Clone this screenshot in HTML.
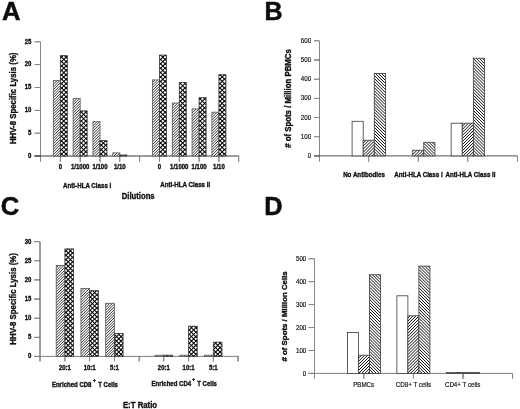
<!DOCTYPE html>
<html><head><meta charset="utf-8"><style>
html,body{margin:0;padding:0;background:#fff;width:520px;height:409px;overflow:hidden}
svg{display:block;will-change:transform}
text{font-family:"Liberation Sans", sans-serif;fill:#111;stroke:#111;stroke-width:0.36px}
.big{stroke-width:0.5px}
.reg{stroke-width:0.18px}
</style></head><body>
<svg width="520" height="409" viewBox="0 0 520 409">
<defs>
<filter id="soft" x="0" y="0" width="100%" height="100%" filterUnits="userSpaceOnUse"><feGaussianBlur stdDeviation="0.35"/></filter>

</defs>
<g filter="url(#soft)">
<rect width="520" height="409" fill="#fff"/>
<text x="2.00" y="19.80" font-size="25.6" font-weight="bold" text-anchor="start" class="big">A</text>
<line x1="40.50" y1="41.80" x2="40.50" y2="162.00" stroke="#888888" stroke-width="1"/>
<line x1="34.50" y1="156.00" x2="238.75" y2="156.00" stroke="#393939" stroke-width="1"/>
<line x1="34.50" y1="156.00" x2="40.50" y2="156.00" stroke="#393939" stroke-width="1"/>
<text transform="translate(31.30,157.80) scale(0.8696,1)" font-size="6.900" font-weight="bold" text-anchor="end" >0</text>
<line x1="34.50" y1="133.16" x2="40.50" y2="133.16" stroke="#5f5f5f" stroke-width="1"/>
<text transform="translate(31.30,134.96) scale(0.8696,1)" font-size="6.900" font-weight="bold" text-anchor="end" >5</text>
<line x1="34.50" y1="110.32" x2="40.50" y2="110.32" stroke="#777777" stroke-width="1"/>
<text transform="translate(31.30,112.12) scale(0.8696,1)" font-size="6.900" font-weight="bold" text-anchor="end" >10</text>
<line x1="34.50" y1="87.48" x2="40.50" y2="87.48" stroke="#868686" stroke-width="1"/>
<text transform="translate(31.30,89.28) scale(0.8696,1)" font-size="6.900" font-weight="bold" text-anchor="end" >15</text>
<line x1="34.50" y1="64.64" x2="40.50" y2="64.64" stroke="#7b7b7b" stroke-width="1"/>
<text transform="translate(31.30,66.44) scale(0.8696,1)" font-size="6.900" font-weight="bold" text-anchor="end" >20</text>
<line x1="34.50" y1="41.80" x2="40.50" y2="41.80" stroke="#666666" stroke-width="1"/>
<text transform="translate(31.30,43.60) scale(0.8696,1)" font-size="6.900" font-weight="bold" text-anchor="end" >25</text>
<line x1="60.33" y1="156.00" x2="60.33" y2="162.00" stroke="#777777" stroke-width="1"/>
<line x1="80.15" y1="156.00" x2="80.15" y2="162.00" stroke="#5d5d5d" stroke-width="1"/>
<line x1="99.97" y1="156.00" x2="99.97" y2="162.00" stroke="#414141" stroke-width="1"/>
<line x1="119.80" y1="156.00" x2="119.80" y2="162.00" stroke="#666666" stroke-width="1"/>
<line x1="139.62" y1="156.00" x2="139.62" y2="162.00" stroke="#7d7d7d" stroke-width="1"/>
<line x1="159.45" y1="156.00" x2="159.45" y2="162.00" stroke="#848484" stroke-width="1"/>
<line x1="179.28" y1="156.00" x2="179.28" y2="162.00" stroke="#717171" stroke-width="1"/>
<line x1="199.10" y1="156.00" x2="199.10" y2="162.00" stroke="#535353" stroke-width="1"/>
<line x1="218.92" y1="156.00" x2="218.92" y2="162.00" stroke="#4e4e4e" stroke-width="1"/>
<line x1="238.75" y1="156.00" x2="238.75" y2="162.00" stroke="#6e6e6e" stroke-width="1"/>
<rect x="53.33" y="80.60" width="7.00" height="75.40" fill="#fff"/>
<path d="M53.33 81.67L54.40 80.60M53.33 84.38L57.10 80.60M53.33 87.08L59.80 80.60M53.33 89.78L60.33 82.78M53.33 92.48L60.33 85.48M53.33 95.17L60.33 88.17M53.33 97.88L60.33 90.88M53.33 100.58L60.33 93.58M53.33 103.28L60.33 96.28M53.33 105.98L60.33 98.98M53.33 108.67L60.33 101.67M53.33 111.38L60.33 104.38M53.33 114.08L60.33 107.08M53.33 116.78L60.33 109.78M53.33 119.48L60.33 112.48M53.33 122.17L60.33 115.17M53.33 124.88L60.33 117.88M53.33 127.58L60.33 120.58M53.33 130.28L60.33 123.28M53.33 132.98L60.33 125.98M53.33 135.68L60.33 128.68M53.33 138.38L60.33 131.38M53.33 141.07L60.33 134.07M53.33 143.78L60.33 136.78M53.33 146.48L60.33 139.48M53.33 149.18L60.33 142.18M53.33 151.88L60.33 144.88M53.33 154.57L60.33 147.57M54.60 156.00L60.33 150.28M57.30 156.00L60.33 152.98M60.00 156.00L60.33 155.68" stroke="#000" stroke-width="0.8" fill="none"/>
<rect x="53.33" y="80.60" width="7.00" height="75.40" fill="none" stroke="#555" stroke-width="0.8"/>
<rect x="60.33" y="55.60" width="7.00" height="100.40" fill="#fff"/>
<path d="M60.33 58.48L63.20 55.60M60.33 62.88L67.33 55.88M60.33 67.28L67.33 60.28M60.33 71.67L67.33 64.67M60.33 76.08L67.33 69.08M60.33 80.48L67.33 73.48M60.33 84.88L67.33 77.88M60.33 89.28L67.33 82.28M60.33 93.67L67.33 86.67M60.33 98.08L67.33 91.08M60.33 102.48L67.33 95.48M60.33 106.88L67.33 99.88M60.33 111.28L67.33 104.28M60.33 115.67L67.33 108.67M60.33 120.08L67.33 113.08M60.33 124.48L67.33 117.48M60.33 128.88L67.33 121.88M60.33 133.28L67.33 126.28M60.33 137.68L67.33 130.68M60.33 142.07L67.33 135.07M60.33 146.48L67.33 139.48M60.33 150.88L67.33 143.88M60.33 155.28L67.33 148.28M64.00 156.00L67.33 152.68" stroke="#000" stroke-width="1.05" fill="none"/>
<path d="M60.33 152.73L63.60 156.00M60.33 148.32L67.33 155.32M60.33 143.93L67.33 150.93M60.33 139.53L67.33 146.53M60.33 135.12L67.33 142.12M60.33 130.73L67.33 137.73M60.33 126.33L67.33 133.32M60.33 121.93L67.33 128.93M60.33 117.53L67.33 124.53M60.33 113.12L67.33 120.12M60.33 108.73L67.33 115.73M60.33 104.33L67.33 111.33M60.33 99.93L67.33 106.93M60.33 95.53L67.33 102.53M60.33 91.12L67.33 98.12M60.33 86.73L67.33 93.73M60.33 82.33L67.33 89.33M60.33 77.93L67.33 84.93M60.33 73.53L67.33 80.53M60.33 69.12L67.33 76.12M60.33 64.73L67.33 71.73M60.33 60.33L67.33 67.33M60.33 55.93L67.33 62.93M64.40 55.60L67.33 58.53" stroke="#000" stroke-width="1.05" fill="none"/>
<rect x="60.33" y="55.60" width="7.00" height="100.40" fill="none" stroke="#3a3a3a" stroke-width="0.8"/>
<text transform="translate(60.33,169.20) scale(0.8696,1)" font-size="6.900" font-weight="bold" text-anchor="middle" >0</text>
<rect x="73.15" y="98.60" width="7.00" height="57.40" fill="#fff"/>
<path d="M73.15 99.65L74.20 98.60M73.15 102.35L76.90 98.60M73.15 105.05L79.60 98.60M73.15 107.75L80.15 100.75M73.15 110.45L80.15 103.45M73.15 113.15L80.15 106.15M73.15 115.85L80.15 108.85M73.15 118.55L80.15 111.55M73.15 121.25L80.15 114.25M73.15 123.95L80.15 116.95M73.15 126.65L80.15 119.65M73.15 129.35L80.15 122.35M73.15 132.05L80.15 125.05M73.15 134.75L80.15 127.75M73.15 137.45L80.15 130.45M73.15 140.15L80.15 133.15M73.15 142.85L80.15 135.85M73.15 145.55L80.15 138.55M73.15 148.25L80.15 141.25M73.15 150.95L80.15 143.95M73.15 153.65L80.15 146.65M73.50 156.00L80.15 149.35M76.20 156.00L80.15 152.05M78.90 156.00L80.15 154.75" stroke="#000" stroke-width="0.8" fill="none"/>
<rect x="73.15" y="98.60" width="7.00" height="57.40" fill="none" stroke="#555" stroke-width="0.8"/>
<rect x="80.15" y="110.90" width="7.00" height="45.10" fill="#fff"/>
<path d="M80.15 113.45L82.70 110.90M80.15 117.85L87.10 110.90M80.15 122.25L87.15 115.25M80.15 126.65L87.15 119.65M80.15 131.05L87.15 124.05M80.15 135.45L87.15 128.45M80.15 139.85L87.15 132.85M80.15 144.25L87.15 137.25M80.15 148.65L87.15 141.65M80.15 153.05L87.15 146.05M81.60 156.00L87.15 150.45M86.00 156.00L87.15 154.85" stroke="#000" stroke-width="1.05" fill="none"/>
<path d="M80.15 154.95L81.20 156.00M80.15 150.55L85.60 156.00M80.15 146.15L87.15 153.15M80.15 141.75L87.15 148.75M80.15 137.35L87.15 144.35M80.15 132.95L87.15 139.95M80.15 128.55L87.15 135.55M80.15 124.15L87.15 131.15M80.15 119.75L87.15 126.75M80.15 115.35L87.15 122.35M80.15 110.95L87.15 117.95M84.50 110.90L87.15 113.55" stroke="#000" stroke-width="1.05" fill="none"/>
<rect x="80.15" y="110.90" width="7.00" height="45.10" fill="none" stroke="#3a3a3a" stroke-width="0.8"/>
<text transform="translate(80.15,169.20) scale(0.8696,1)" font-size="6.900" font-weight="bold" text-anchor="middle" >1/1000</text>
<rect x="92.97" y="121.70" width="7.00" height="34.30" fill="#fff"/>
<path d="M92.97 123.03L94.30 121.70M92.97 125.73L97.00 121.70M92.97 128.43L99.70 121.70M92.97 131.13L99.97 124.13M92.97 133.83L99.97 126.83M92.97 136.53L99.97 129.53M92.97 139.23L99.97 132.23M92.97 141.93L99.97 134.93M92.97 144.63L99.97 137.63M92.97 147.33L99.97 140.33M92.97 150.03L99.97 143.03M92.97 152.73L99.97 145.73M92.97 155.43L99.97 148.43M95.10 156.00L99.97 151.13M97.80 156.00L99.97 153.83" stroke="#000" stroke-width="0.8" fill="none"/>
<rect x="92.97" y="121.70" width="7.00" height="34.30" fill="none" stroke="#555" stroke-width="0.8"/>
<rect x="99.97" y="140.40" width="7.00" height="15.60" fill="#fff"/>
<path d="M99.97 142.03L101.60 140.40M99.97 146.43L106.00 140.40M99.97 150.83L106.97 143.83M99.97 155.23L106.97 148.23M103.60 156.00L106.97 152.63" stroke="#000" stroke-width="1.05" fill="none"/>
<path d="M99.97 152.78L103.20 156.00M99.97 148.38L106.97 155.38M99.97 143.97L106.97 150.97M100.80 140.40L106.97 146.57M105.20 140.40L106.97 142.18" stroke="#000" stroke-width="1.05" fill="none"/>
<rect x="99.97" y="140.40" width="7.00" height="15.60" fill="none" stroke="#3a3a3a" stroke-width="0.8"/>
<text transform="translate(99.97,169.20) scale(0.8696,1)" font-size="6.900" font-weight="bold" text-anchor="middle" >1/100</text>
<rect x="112.80" y="152.90" width="7.00" height="3.10" fill="#fff"/>
<path d="M112.80 154.50L114.40 152.90M114.00 156.00L117.10 152.90M116.70 156.00L119.80 152.90M119.40 156.00L119.80 155.60" stroke="#000" stroke-width="0.8" fill="none"/>
<rect x="112.80" y="152.90" width="7.00" height="3.10" fill="none" stroke="#555" stroke-width="0.8"/>
<rect x="119.80" y="155.00" width="7.00" height="1.00" fill="#fff"/>
<path d="M121.20 156.00L122.20 155.00M125.60 156.00L126.60 155.00" stroke="#000" stroke-width="1.05" fill="none"/>
<path d="M119.80 155.00L120.80 156.00M124.20 155.00L125.20 156.00" stroke="#000" stroke-width="1.05" fill="none"/>
<rect x="119.80" y="155.00" width="7.00" height="1.00" fill="none" stroke="#3a3a3a" stroke-width="0.8"/>
<text transform="translate(119.80,169.20) scale(0.8696,1)" font-size="6.900" font-weight="bold" text-anchor="middle" >1/10</text>
<rect x="152.45" y="79.90" width="7.00" height="76.10" fill="#fff"/>
<path d="M152.45 82.45L155.00 79.90M152.45 85.15L157.70 79.90M152.45 87.85L159.45 80.85M152.45 90.55L159.45 83.55M152.45 93.25L159.45 86.25M152.45 95.95L159.45 88.95M152.45 98.65L159.45 91.65M152.45 101.35L159.45 94.35M152.45 104.05L159.45 97.05M152.45 106.75L159.45 99.75M152.45 109.45L159.45 102.45M152.45 112.15L159.45 105.15M152.45 114.85L159.45 107.85M152.45 117.55L159.45 110.55M152.45 120.25L159.45 113.25M152.45 122.95L159.45 115.95M152.45 125.65L159.45 118.65M152.45 128.35L159.45 121.35M152.45 131.05L159.45 124.05M152.45 133.75L159.45 126.75M152.45 136.45L159.45 129.45M152.45 139.15L159.45 132.15M152.45 141.85L159.45 134.85M152.45 144.55L159.45 137.55M152.45 147.25L159.45 140.25M152.45 149.95L159.45 142.95M152.45 152.65L159.45 145.65M152.45 155.35L159.45 148.35M154.50 156.00L159.45 151.05M157.20 156.00L159.45 153.75" stroke="#000" stroke-width="0.8" fill="none"/>
<rect x="152.45" y="79.90" width="7.00" height="76.10" fill="none" stroke="#555" stroke-width="0.8"/>
<rect x="159.45" y="55.10" width="7.00" height="100.90" fill="#fff"/>
<path d="M159.45 56.15L160.50 55.10M159.45 60.55L164.90 55.10M159.45 64.95L166.45 57.95M159.45 69.35L166.45 62.35M159.45 73.75L166.45 66.75M159.45 78.15L166.45 71.15M159.45 82.55L166.45 75.55M159.45 86.95L166.45 79.95M159.45 91.35L166.45 84.35M159.45 95.75L166.45 88.75M159.45 100.15L166.45 93.15M159.45 104.55L166.45 97.55M159.45 108.95L166.45 101.95M159.45 113.35L166.45 106.35M159.45 117.75L166.45 110.75M159.45 122.15L166.45 115.15M159.45 126.55L166.45 119.55M159.45 130.95L166.45 123.95M159.45 135.35L166.45 128.35M159.45 139.75L166.45 132.75M159.45 144.15L166.45 137.15M159.45 148.55L166.45 141.55M159.45 152.95L166.45 145.95M160.80 156.00L166.45 150.35M165.20 156.00L166.45 154.75" stroke="#000" stroke-width="1.05" fill="none"/>
<path d="M159.45 155.05L160.40 156.00M159.45 150.65L164.80 156.00M159.45 146.25L166.45 153.25M159.45 141.85L166.45 148.85M159.45 137.45L166.45 144.45M159.45 133.05L166.45 140.05M159.45 128.65L166.45 135.65M159.45 124.25L166.45 131.25M159.45 119.85L166.45 126.85M159.45 115.45L166.45 122.45M159.45 111.05L166.45 118.05M159.45 106.65L166.45 113.65M159.45 102.25L166.45 109.25M159.45 97.85L166.45 104.85M159.45 93.45L166.45 100.45M159.45 89.05L166.45 96.05M159.45 84.65L166.45 91.65M159.45 80.25L166.45 87.25M159.45 75.85L166.45 82.85M159.45 71.45L166.45 78.45M159.45 67.05L166.45 74.05M159.45 62.65L166.45 69.65M159.45 58.25L166.45 65.25M160.70 55.10L166.45 60.85M165.10 55.10L166.45 56.45" stroke="#000" stroke-width="1.05" fill="none"/>
<rect x="159.45" y="55.10" width="7.00" height="100.90" fill="none" stroke="#3a3a3a" stroke-width="0.8"/>
<text transform="translate(159.45,169.20) scale(0.8696,1)" font-size="6.900" font-weight="bold" text-anchor="middle" >0</text>
<rect x="172.28" y="103.00" width="7.00" height="53.00" fill="#fff"/>
<path d="M172.28 103.13L172.40 103.00M172.28 105.83L175.10 103.00M172.28 108.53L177.80 103.00M172.28 111.22L179.28 104.22M172.28 113.93L179.28 106.93M172.28 116.63L179.28 109.63M172.28 119.33L179.28 112.33M172.28 122.03L179.28 115.03M172.28 124.72L179.28 117.72M172.28 127.43L179.28 120.43M172.28 130.13L179.28 123.13M172.28 132.83L179.28 125.83M172.28 135.53L179.28 128.53M172.28 138.22L179.28 131.22M172.28 140.93L179.28 133.93M172.28 143.63L179.28 136.63M172.28 146.33L179.28 139.33M172.28 149.03L179.28 142.03M172.28 151.72L179.28 144.72M172.28 154.43L179.28 147.43M173.40 156.00L179.28 150.13M176.10 156.00L179.28 152.83M178.80 156.00L179.28 155.53" stroke="#000" stroke-width="0.8" fill="none"/>
<rect x="172.28" y="103.00" width="7.00" height="53.00" fill="none" stroke="#555" stroke-width="0.8"/>
<rect x="179.28" y="82.50" width="7.00" height="73.50" fill="#fff"/>
<path d="M179.28 84.72L181.50 82.50M179.28 89.13L185.90 82.50M179.28 93.53L186.28 86.53M179.28 97.93L186.28 90.93M179.28 102.33L186.28 95.33M179.28 106.72L186.28 99.72M179.28 111.13L186.28 104.13M179.28 115.53L186.28 108.53M179.28 119.93L186.28 112.93M179.28 124.33L186.28 117.33M179.28 128.72L186.28 121.72M179.28 133.13L186.28 126.13M179.28 137.53L186.28 130.53M179.28 141.93L186.28 134.93M179.28 146.33L186.28 139.33M179.28 150.72L186.28 143.72M179.28 155.13L186.28 148.13M182.80 156.00L186.28 152.53" stroke="#000" stroke-width="1.05" fill="none"/>
<path d="M179.28 152.88L182.40 156.00M179.28 148.47L186.28 155.47M179.28 144.07L186.28 151.07M179.28 139.68L186.28 146.68M179.28 135.28L186.28 142.28M179.28 130.88L186.28 137.88M179.28 126.47L186.28 133.47M179.28 122.08L186.28 129.07M179.28 117.67L186.28 124.67M179.28 113.28L186.28 120.28M179.28 108.88L186.28 115.88M179.28 104.47L186.28 111.47M179.28 100.08L186.28 107.08M179.28 95.67L186.28 102.67M179.28 91.28L186.28 98.28M179.28 86.88L186.28 93.88M179.30 82.50L186.28 89.47M183.70 82.50L186.28 85.08" stroke="#000" stroke-width="1.05" fill="none"/>
<rect x="179.28" y="82.50" width="7.00" height="73.50" fill="none" stroke="#3a3a3a" stroke-width="0.8"/>
<text transform="translate(179.28,169.20) scale(0.8696,1)" font-size="6.900" font-weight="bold" text-anchor="middle" >1/1000</text>
<rect x="192.10" y="108.90" width="7.00" height="47.10" fill="#fff"/>
<path d="M192.10 110.30L193.50 108.90M192.10 113.00L196.20 108.90M192.10 115.70L198.90 108.90M192.10 118.40L199.10 111.40M192.10 121.10L199.10 114.10M192.10 123.80L199.10 116.80M192.10 126.50L199.10 119.50M192.10 129.20L199.10 122.20M192.10 131.90L199.10 124.90M192.10 134.60L199.10 127.60M192.10 137.30L199.10 130.30M192.10 140.00L199.10 133.00M192.10 142.70L199.10 135.70M192.10 145.40L199.10 138.40M192.10 148.10L199.10 141.10M192.10 150.80L199.10 143.80M192.10 153.50L199.10 146.50M192.30 156.00L199.10 149.20M195.00 156.00L199.10 151.90M197.70 156.00L199.10 154.60" stroke="#000" stroke-width="0.8" fill="none"/>
<rect x="192.10" y="108.90" width="7.00" height="47.10" fill="none" stroke="#555" stroke-width="0.8"/>
<rect x="199.10" y="97.70" width="7.00" height="58.30" fill="#fff"/>
<path d="M199.10 100.10L201.50 97.70M199.10 104.50L205.90 97.70M199.10 108.90L206.10 101.90M199.10 113.30L206.10 106.30M199.10 117.70L206.10 110.70M199.10 122.10L206.10 115.10M199.10 126.50L206.10 119.50M199.10 130.90L206.10 123.90M199.10 135.30L206.10 128.30M199.10 139.70L206.10 132.70M199.10 144.10L206.10 137.10M199.10 148.50L206.10 141.50M199.10 152.90L206.10 145.90M200.40 156.00L206.10 150.30M204.80 156.00L206.10 154.70" stroke="#000" stroke-width="1.05" fill="none"/>
<path d="M199.10 155.10L200.00 156.00M199.10 150.70L204.40 156.00M199.10 146.30L206.10 153.30M199.10 141.90L206.10 148.90M199.10 137.50L206.10 144.50M199.10 133.10L206.10 140.10M199.10 128.70L206.10 135.70M199.10 124.30L206.10 131.30M199.10 119.90L206.10 126.90M199.10 115.50L206.10 122.50M199.10 111.10L206.10 118.10M199.10 106.70L206.10 113.70M199.10 102.30L206.10 109.30M199.10 97.90L206.10 104.90M203.30 97.70L206.10 100.50" stroke="#000" stroke-width="1.05" fill="none"/>
<rect x="199.10" y="97.70" width="7.00" height="58.30" fill="none" stroke="#3a3a3a" stroke-width="0.8"/>
<text transform="translate(199.10,169.20) scale(0.8696,1)" font-size="6.900" font-weight="bold" text-anchor="middle" >1/100</text>
<rect x="211.92" y="112.20" width="7.00" height="43.80" fill="#fff"/>
<path d="M211.92 114.78L214.50 112.20M211.92 117.48L217.20 112.20M211.92 120.18L218.92 113.18M211.92 122.88L218.92 115.88M211.92 125.58L218.92 118.58M211.92 128.28L218.92 121.28M211.92 130.98L218.92 123.98M211.92 133.68L218.92 126.68M211.92 136.38L218.92 129.38M211.92 139.08L218.92 132.08M211.92 141.78L218.92 134.78M211.92 144.48L218.92 137.48M211.92 147.18L218.92 140.18M211.92 149.88L218.92 142.88M211.92 152.58L218.92 145.58M211.92 155.28L218.92 148.28M213.90 156.00L218.92 150.98M216.60 156.00L218.92 153.68" stroke="#000" stroke-width="0.8" fill="none"/>
<rect x="211.92" y="112.20" width="7.00" height="43.80" fill="none" stroke="#555" stroke-width="0.8"/>
<rect x="218.92" y="74.70" width="7.00" height="81.30" fill="#fff"/>
<path d="M218.92 75.88L220.10 74.70M218.92 80.28L224.50 74.70M218.92 84.68L225.92 77.68M218.92 89.08L225.92 82.08M218.92 93.48L225.92 86.48M218.92 97.88L225.92 90.88M218.92 102.28L225.92 95.28M218.92 106.68L225.92 99.68M218.92 111.08L225.92 104.08M218.92 115.48L225.92 108.48M218.92 119.88L225.92 112.88M218.92 124.28L225.92 117.28M218.92 128.68L225.92 121.68M218.92 133.08L225.92 126.08M218.92 137.48L225.92 130.48M218.92 141.88L225.92 134.88M218.92 146.28L225.92 139.28M218.92 150.68L225.92 143.68M218.92 155.08L225.92 148.08M222.40 156.00L225.92 152.48" stroke="#000" stroke-width="1.05" fill="none"/>
<path d="M218.92 152.92L222.00 156.00M218.92 148.52L225.92 155.52M218.92 144.12L225.92 151.12M218.92 139.72L225.92 146.72M218.92 135.32L225.92 142.32M218.92 130.92L225.92 137.92M218.92 126.52L225.92 133.52M218.92 122.12L225.92 129.12M218.92 117.72L225.92 124.72M218.92 113.32L225.92 120.32M218.92 108.92L225.92 115.92M218.92 104.52L225.92 111.52M218.92 100.12L225.92 107.12M218.92 95.72L225.92 102.72M218.92 91.32L225.92 98.32M218.92 86.92L225.92 93.92M218.92 82.52L225.92 89.52M218.92 78.12L225.92 85.12M219.90 74.70L225.92 80.72M224.30 74.70L225.92 76.32" stroke="#000" stroke-width="1.05" fill="none"/>
<rect x="218.92" y="74.70" width="7.00" height="81.30" fill="none" stroke="#3a3a3a" stroke-width="0.8"/>
<text transform="translate(218.92,169.20) scale(0.8696,1)" font-size="6.900" font-weight="bold" text-anchor="middle" >1/10</text>
<text transform="translate(87.20,187.70) scale(0.8696,1)" font-size="7.130" font-weight="bold" text-anchor="middle" >Anti-HLA Class I</text>
<text transform="translate(185.20,187.00) scale(0.8696,1)" font-size="7.130" font-weight="bold" text-anchor="middle" >Anti-HLA Class II</text>
<text transform="translate(138.20,198.90) scale(0.8696,1)" font-size="8.855" font-weight="bold" text-anchor="middle" >Dilutions</text>
<text transform="translate(15.80,98.30) rotate(-90) scale(0.8696,1)" font-size="9.027" font-weight="bold" text-anchor="middle">HHV-8 Specific Lysis (%)</text>
<text x="264.50" y="19.60" font-size="25" font-weight="bold" text-anchor="start" class="big">B</text>
<line x1="319.50" y1="41.00" x2="319.50" y2="161.80" stroke="#888888" stroke-width="1"/>
<line x1="314.00" y1="155.90" x2="517.40" y2="155.90" stroke="#535353" stroke-width="1"/>
<line x1="314.00" y1="155.90" x2="319.50" y2="155.90" stroke="#535353" stroke-width="1"/>
<text transform="translate(311.20,158.00) scale(0.8696,1)" font-size="7.130" font-weight="normal" text-anchor="end" class="reg" >0</text>
<line x1="314.00" y1="136.72" x2="319.50" y2="136.72" stroke="#727272" stroke-width="1"/>
<text transform="translate(311.20,138.82) scale(0.8696,1)" font-size="7.130" font-weight="normal" text-anchor="end" class="reg" >100</text>
<line x1="314.00" y1="117.54" x2="319.50" y2="117.54" stroke="#858585" stroke-width="1"/>
<text transform="translate(311.20,119.64) scale(0.8696,1)" font-size="7.130" font-weight="normal" text-anchor="end" class="reg" >200</text>
<line x1="314.00" y1="98.36" x2="319.50" y2="98.36" stroke="#7b7b7b" stroke-width="1"/>
<text transform="translate(311.20,100.46) scale(0.8696,1)" font-size="7.130" font-weight="normal" text-anchor="end" class="reg" >300</text>
<line x1="314.00" y1="79.18" x2="319.50" y2="79.18" stroke="#636363" stroke-width="1"/>
<text transform="translate(311.20,81.28) scale(0.8696,1)" font-size="7.130" font-weight="normal" text-anchor="end" class="reg" >400</text>
<line x1="314.00" y1="60.00" x2="319.50" y2="60.00" stroke="#393939" stroke-width="1"/>
<text transform="translate(311.20,62.10) scale(0.8696,1)" font-size="7.130" font-weight="normal" text-anchor="end" class="reg" >500</text>
<line x1="314.00" y1="40.82" x2="319.50" y2="40.82" stroke="#636363" stroke-width="1"/>
<text transform="translate(311.20,42.92) scale(0.8696,1)" font-size="7.130" font-weight="normal" text-anchor="end" class="reg" >600</text>
<line x1="368.75" y1="155.90" x2="368.75" y2="161.80" stroke="#6e6e6e" stroke-width="1"/>
<line x1="418.25" y1="155.90" x2="418.25" y2="161.80" stroke="#6e6e6e" stroke-width="1"/>
<line x1="467.80" y1="155.90" x2="467.80" y2="161.80" stroke="#666666" stroke-width="1"/>
<line x1="517.40" y1="155.90" x2="517.40" y2="161.80" stroke="#7f7f7f" stroke-width="1"/>
<rect x="352.10" y="121.30" width="11.10" height="34.60" fill="#fff" stroke="#3a3a3a" stroke-width="0.8"/>
<rect x="363.20" y="140.20" width="11.10" height="15.70" fill="#fff"/>
<path d="M363.20 143.10L366.10 140.20M363.20 146.15L369.15 140.20M363.20 149.20L372.20 140.20M363.20 152.25L374.30 141.15M363.20 155.30L374.30 144.20M365.65 155.90L374.30 147.25M368.70 155.90L374.30 150.30M371.75 155.90L374.30 153.35" stroke="#000" stroke-width="0.95" fill="none"/>
<rect x="363.20" y="140.20" width="11.10" height="15.70" fill="none" stroke="#3a3a3a" stroke-width="0.8"/>
<rect x="374.30" y="73.40" width="11.10" height="82.50" fill="#fff"/>
<path d="M374.30 154.70L375.50 155.90M374.30 151.65L378.55 155.90M374.30 148.60L381.60 155.90M374.30 145.55L384.65 155.90M374.30 142.50L385.40 153.60M374.30 139.45L385.40 150.55M374.30 136.40L385.40 147.50M374.30 133.35L385.40 144.45M374.30 130.30L385.40 141.40M374.30 127.25L385.40 138.35M374.30 124.20L385.40 135.30M374.30 121.15L385.40 132.25M374.30 118.10L385.40 129.20M374.30 115.05L385.40 126.15M374.30 112.00L385.40 123.10M374.30 108.95L385.40 120.05M374.30 105.90L385.40 117.00M374.30 102.85L385.40 113.95M374.30 99.80L385.40 110.90M374.30 96.75L385.40 107.85M374.30 93.70L385.40 104.80M374.30 90.65L385.40 101.75M374.30 87.60L385.40 98.70M374.30 84.55L385.40 95.65M374.30 81.50L385.40 92.60M374.30 78.45L385.40 89.55M374.30 75.40L385.40 86.50M375.35 73.40L385.40 83.45M378.40 73.40L385.40 80.40M381.45 73.40L385.40 77.35M384.50 73.40L385.40 74.30" stroke="#000" stroke-width="0.95" fill="none"/>
<rect x="374.30" y="73.40" width="11.10" height="82.50" fill="none" stroke="#3a3a3a" stroke-width="0.8"/>
<rect x="412.70" y="150.20" width="11.10" height="5.70" fill="#fff"/>
<path d="M412.70 151.55L414.05 150.20M412.70 154.60L417.10 150.20M414.45 155.90L420.15 150.20M417.50 155.90L423.20 150.20M420.55 155.90L423.80 152.65M423.60 155.90L423.80 155.70" stroke="#000" stroke-width="0.95" fill="none"/>
<rect x="412.70" y="150.20" width="11.10" height="5.70" fill="none" stroke="#3a3a3a" stroke-width="0.8"/>
<rect x="423.80" y="142.30" width="11.10" height="13.60" fill="#fff"/>
<path d="M423.80 155.40L424.30 155.90M423.80 152.35L427.35 155.90M423.80 149.30L430.40 155.90M423.80 146.25L433.45 155.90M423.80 143.20L434.90 154.30M425.95 142.30L434.90 151.25M429.00 142.30L434.90 148.20M432.05 142.30L434.90 145.15" stroke="#000" stroke-width="0.95" fill="none"/>
<rect x="423.80" y="142.30" width="11.10" height="13.60" fill="none" stroke="#3a3a3a" stroke-width="0.8"/>
<rect x="451.15" y="123.20" width="11.10" height="32.70" fill="#fff" stroke="#3a3a3a" stroke-width="0.8"/>
<rect x="462.25" y="123.20" width="11.10" height="32.70" fill="#fff"/>
<path d="M462.25 123.35L462.40 123.20M462.25 126.40L465.45 123.20M462.25 129.45L468.50 123.20M462.25 132.50L471.55 123.20M462.25 135.55L473.35 124.45M462.25 138.60L473.35 127.50M462.25 141.65L473.35 130.55M462.25 144.70L473.35 133.60M462.25 147.75L473.35 136.65M462.25 150.80L473.35 139.70M462.25 153.85L473.35 142.75M463.25 155.90L473.35 145.80M466.30 155.90L473.35 148.85M469.35 155.90L473.35 151.90M472.40 155.90L473.35 154.95" stroke="#000" stroke-width="0.95" fill="none"/>
<rect x="462.25" y="123.20" width="11.10" height="32.70" fill="none" stroke="#3a3a3a" stroke-width="0.8"/>
<rect x="473.35" y="58.20" width="11.10" height="97.70" fill="#fff"/>
<path d="M473.35 153.10L476.15 155.90M473.35 150.05L479.20 155.90M473.35 147.00L482.25 155.90M473.35 143.95L484.45 155.05M473.35 140.90L484.45 152.00M473.35 137.85L484.45 148.95M473.35 134.80L484.45 145.90M473.35 131.75L484.45 142.85M473.35 128.70L484.45 139.80M473.35 125.65L484.45 136.75M473.35 122.60L484.45 133.70M473.35 119.55L484.45 130.65M473.35 116.50L484.45 127.60M473.35 113.45L484.45 124.55M473.35 110.40L484.45 121.50M473.35 107.35L484.45 118.45M473.35 104.30L484.45 115.40M473.35 101.25L484.45 112.35M473.35 98.20L484.45 109.30M473.35 95.15L484.45 106.25M473.35 92.10L484.45 103.20M473.35 89.05L484.45 100.15M473.35 86.00L484.45 97.10M473.35 82.95L484.45 94.05M473.35 79.90L484.45 91.00M473.35 76.85L484.45 87.95M473.35 73.80L484.45 84.90M473.35 70.75L484.45 81.85M473.35 67.70L484.45 78.80M473.35 64.65L484.45 75.75M473.35 61.60L484.45 72.70M473.35 58.55L484.45 69.65M476.05 58.20L484.45 66.60M479.10 58.20L484.45 63.55M482.15 58.20L484.45 60.50" stroke="#000" stroke-width="0.95" fill="none"/>
<rect x="473.35" y="58.20" width="11.10" height="97.70" fill="none" stroke="#3a3a3a" stroke-width="0.8"/>
<text transform="translate(364.00,177.00) scale(0.8696,1)" font-size="7.130" font-weight="bold" text-anchor="middle" >No Antibodies</text>
<text transform="translate(418.50,177.00) scale(0.8696,1)" font-size="7.130" font-weight="bold" text-anchor="middle" >Anti-HLA Class I</text>
<text transform="translate(470.50,177.00) scale(0.8696,1)" font-size="7.130" font-weight="bold" text-anchor="middle" >Anti-HLA Class II</text>
<text transform="translate(291.00,98.50) rotate(-90) scale(0.8696,1)" font-size="9.027" font-weight="bold" text-anchor="middle"># of Spots / Million PBMCs</text>
<text x="0.80" y="215.30" font-size="25.6" font-weight="bold" text-anchor="start" class="big">C</text>
<line x1="40.00" y1="241.70" x2="40.00" y2="361.50" stroke="#393939" stroke-width="1"/>
<line x1="34.00" y1="356.40" x2="238.00" y2="356.40" stroke="#7f7f7f" stroke-width="1"/>
<line x1="34.00" y1="356.40" x2="40.00" y2="356.40" stroke="#7f7f7f" stroke-width="1"/>
<text transform="translate(31.30,358.20) scale(0.8696,1)" font-size="6.900" font-weight="bold" text-anchor="end" >0</text>
<line x1="34.00" y1="337.28" x2="40.00" y2="337.28" stroke="#727272" stroke-width="1"/>
<text transform="translate(31.30,339.08) scale(0.8696,1)" font-size="6.900" font-weight="bold" text-anchor="end" >5</text>
<line x1="34.00" y1="318.17" x2="40.00" y2="318.17" stroke="#606060" stroke-width="1"/>
<text transform="translate(31.30,319.97) scale(0.8696,1)" font-size="6.900" font-weight="bold" text-anchor="end" >10</text>
<line x1="34.00" y1="299.05" x2="40.00" y2="299.05" stroke="#474747" stroke-width="1"/>
<text transform="translate(31.30,300.85) scale(0.8696,1)" font-size="6.900" font-weight="bold" text-anchor="end" >15</text>
<line x1="34.00" y1="279.93" x2="40.00" y2="279.93" stroke="#4c4c4c" stroke-width="1"/>
<text transform="translate(31.30,281.73) scale(0.8696,1)" font-size="6.900" font-weight="bold" text-anchor="end" >20</text>
<line x1="34.00" y1="260.82" x2="40.00" y2="260.82" stroke="#636363" stroke-width="1"/>
<text transform="translate(31.30,262.62) scale(0.8696,1)" font-size="6.900" font-weight="bold" text-anchor="end" >25</text>
<line x1="34.00" y1="241.70" x2="40.00" y2="241.70" stroke="#747474" stroke-width="1"/>
<text transform="translate(31.30,243.50) scale(0.8696,1)" font-size="6.900" font-weight="bold" text-anchor="end" >30</text>
<line x1="64.93" y1="356.40" x2="64.93" y2="361.50" stroke="#4e4e4e" stroke-width="1"/>
<rect x="56.23" y="265.40" width="8.70" height="91.00" fill="#fff"/>
<path d="M56.23 267.77L58.60 265.40M56.23 270.48L61.30 265.40M56.23 273.18L64.00 265.40M56.23 275.88L64.93 267.18M56.23 278.57L64.93 269.88M56.23 281.27L64.93 272.57M56.23 283.98L64.93 275.28M56.23 286.68L64.93 277.98M56.23 289.38L64.93 280.68M56.23 292.07L64.93 283.38M56.23 294.77L64.93 286.07M56.23 297.48L64.93 288.78M56.23 300.18L64.93 291.48M56.23 302.88L64.93 294.18M56.23 305.57L64.93 296.88M56.23 308.27L64.93 299.57M56.23 310.98L64.93 302.28M56.23 313.68L64.93 304.98M56.23 316.38L64.93 307.68M56.23 319.07L64.93 310.38M56.23 321.77L64.93 313.07M56.23 324.48L64.93 315.78M56.23 327.18L64.93 318.48M56.23 329.88L64.93 321.18M56.23 332.57L64.93 323.88M56.23 335.27L64.93 326.57M56.23 337.98L64.93 329.28M56.23 340.68L64.93 331.98M56.23 343.38L64.93 334.68M56.23 346.07L64.93 337.38M56.23 348.77L64.93 340.07M56.23 351.48L64.93 342.78M56.23 354.18L64.93 345.48M56.70 356.40L64.93 348.18M59.40 356.40L64.93 350.88M62.10 356.40L64.93 353.57M64.80 356.40L64.93 356.28" stroke="#000" stroke-width="0.8" fill="none"/>
<rect x="56.23" y="265.40" width="8.70" height="91.00" fill="none" stroke="#555" stroke-width="0.8"/>
<rect x="64.93" y="248.90" width="8.70" height="107.50" fill="#fff"/>
<path d="M64.93 251.88L67.90 248.90M64.93 256.28L72.30 248.90M64.93 260.68L73.63 251.98M64.93 265.07L73.63 256.38M64.93 269.48L73.63 260.78M64.93 273.88L73.63 265.18M64.93 278.28L73.63 269.58M64.93 282.68L73.63 273.98M64.93 287.07L73.63 278.38M64.93 291.48L73.63 282.78M64.93 295.88L73.63 287.18M64.93 300.28L73.63 291.58M64.93 304.68L73.63 295.98M64.93 309.08L73.63 300.38M64.93 313.48L73.63 304.78M64.93 317.88L73.63 309.18M64.93 322.28L73.63 313.58M64.93 326.68L73.63 317.98M64.93 331.08L73.63 322.38M64.93 335.48L73.63 326.78M64.93 339.88L73.63 331.18M64.93 344.28L73.63 335.58M64.93 348.68L73.63 339.98M64.93 353.08L73.63 344.38M66.00 356.40L73.63 348.78M70.40 356.40L73.63 353.18" stroke="#000" stroke-width="1.05" fill="none"/>
<path d="M64.93 355.33L66.00 356.40M64.93 350.93L70.40 356.40M64.93 346.53L73.63 355.23M64.93 342.13L73.63 350.83M64.93 337.73L73.63 346.43M64.93 333.33L73.63 342.03M64.93 328.93L73.63 337.62M64.93 324.53L73.63 333.23M64.93 320.12L73.63 328.83M64.93 315.73L73.63 324.43M64.93 311.33L73.63 320.03M64.93 306.93L73.63 315.63M64.93 302.53L73.63 311.23M64.93 298.12L73.63 306.83M64.93 293.73L73.63 302.43M64.93 289.33L73.63 298.03M64.93 284.93L73.63 293.63M64.93 280.53L73.63 289.23M64.93 276.12L73.63 284.83M64.93 271.73L73.63 280.43M64.93 267.33L73.63 276.03M64.93 262.93L73.63 271.63M64.93 258.53L73.63 267.23M64.93 254.13L73.63 262.83M64.93 249.73L73.63 258.43M68.50 248.90L73.63 254.03M72.90 248.90L73.63 249.62" stroke="#000" stroke-width="1.05" fill="none"/>
<rect x="64.93" y="248.90" width="8.70" height="107.50" fill="none" stroke="#3a3a3a" stroke-width="0.8"/>
<text transform="translate(64.93,370.20) scale(0.8696,1)" font-size="6.900" font-weight="bold" text-anchor="middle" >20:1</text>
<line x1="89.65" y1="356.40" x2="89.65" y2="361.50" stroke="#7a7a7a" stroke-width="1"/>
<rect x="80.95" y="288.40" width="8.70" height="68.00" fill="#fff"/>
<path d="M80.95 288.95L81.50 288.40M80.95 291.65L84.20 288.40M80.95 294.35L86.90 288.40M80.95 297.05L89.60 288.40M80.95 299.75L89.65 291.05M80.95 302.45L89.65 293.75M80.95 305.15L89.65 296.45M80.95 307.85L89.65 299.15M80.95 310.55L89.65 301.85M80.95 313.25L89.65 304.55M80.95 315.95L89.65 307.25M80.95 318.65L89.65 309.95M80.95 321.35L89.65 312.65M80.95 324.05L89.65 315.35M80.95 326.75L89.65 318.05M80.95 329.45L89.65 320.75M80.95 332.15L89.65 323.45M80.95 334.85L89.65 326.15M80.95 337.55L89.65 328.85M80.95 340.25L89.65 331.55M80.95 342.95L89.65 334.25M80.95 345.65L89.65 336.95M80.95 348.35L89.65 339.65M80.95 351.05L89.65 342.35M80.95 353.75L89.65 345.05M81.00 356.40L89.65 347.75M83.70 356.40L89.65 350.45M86.40 356.40L89.65 353.15M89.10 356.40L89.65 355.85" stroke="#000" stroke-width="0.8" fill="none"/>
<rect x="80.95" y="288.40" width="8.70" height="68.00" fill="none" stroke="#555" stroke-width="0.8"/>
<rect x="89.65" y="290.70" width="8.70" height="65.70" fill="#fff"/>
<path d="M89.65 293.15L92.10 290.70M89.65 297.55L96.50 290.70M89.65 301.95L98.35 293.25M89.65 306.35L98.35 297.65M89.65 310.75L98.35 302.05M89.65 315.15L98.35 306.45M89.65 319.55L98.35 310.85M89.65 323.95L98.35 315.25M89.65 328.35L98.35 319.65M89.65 332.75L98.35 324.05M89.65 337.15L98.35 328.45M89.65 341.55L98.35 332.85M89.65 345.95L98.35 337.25M89.65 350.35L98.35 341.65M89.65 354.75L98.35 346.05M92.40 356.40L98.35 350.45M96.80 356.40L98.35 354.85" stroke="#000" stroke-width="1.05" fill="none"/>
<path d="M89.65 353.65L92.40 356.40M89.65 349.25L96.80 356.40M89.65 344.85L98.35 353.55M89.65 340.45L98.35 349.15M89.65 336.05L98.35 344.75M89.65 331.65L98.35 340.35M89.65 327.25L98.35 335.95M89.65 322.85L98.35 331.55M89.65 318.45L98.35 327.15M89.65 314.05L98.35 322.75M89.65 309.65L98.35 318.35M89.65 305.25L98.35 313.95M89.65 300.85L98.35 309.55M89.65 296.45L98.35 305.15M89.65 292.05L98.35 300.75M92.70 290.70L98.35 296.35M97.10 290.70L98.35 291.95" stroke="#000" stroke-width="1.05" fill="none"/>
<rect x="89.65" y="290.70" width="8.70" height="65.70" fill="none" stroke="#3a3a3a" stroke-width="0.8"/>
<text transform="translate(89.65,370.20) scale(0.8696,1)" font-size="6.900" font-weight="bold" text-anchor="middle" >10:1</text>
<line x1="114.38" y1="356.40" x2="114.38" y2="361.50" stroke="#7d7d7d" stroke-width="1"/>
<rect x="105.68" y="303.30" width="8.70" height="53.10" fill="#fff"/>
<path d="M105.68 304.73L107.10 303.30M105.68 307.43L109.80 303.30M105.68 310.12L112.50 303.30M105.68 312.82L114.38 304.12M105.68 315.53L114.38 306.83M105.68 318.23L114.38 309.53M105.68 320.93L114.38 312.23M105.68 323.62L114.38 314.93M105.68 326.32L114.38 317.62M105.68 329.03L114.38 320.33M105.68 331.73L114.38 323.03M105.68 334.43L114.38 325.73M105.68 337.12L114.38 328.43M105.68 339.83L114.38 331.13M105.68 342.53L114.38 333.83M105.68 345.23L114.38 336.53M105.68 347.93L114.38 339.23M105.68 350.62L114.38 341.93M105.68 353.33L114.38 344.63M105.68 356.03L114.38 347.33M108.00 356.40L114.38 350.03M110.70 356.40L114.38 352.73M113.40 356.40L114.38 355.43" stroke="#000" stroke-width="0.8" fill="none"/>
<rect x="105.68" y="303.30" width="8.70" height="53.10" fill="none" stroke="#555" stroke-width="0.8"/>
<rect x="114.38" y="333.40" width="8.70" height="23.00" fill="#fff"/>
<path d="M114.38 334.43L115.40 333.40M114.38 338.83L119.80 333.40M114.38 343.23L123.08 334.52M114.38 347.63L123.08 338.93M114.38 352.03L123.08 343.33M114.40 356.40L123.08 347.73M118.80 356.40L123.08 352.12" stroke="#000" stroke-width="1.05" fill="none"/>
<path d="M114.38 356.38L114.40 356.40M114.38 351.98L118.80 356.40M114.38 347.58L123.08 356.28M114.38 343.18L123.08 351.88M114.38 338.78L123.08 347.48M114.38 334.38L123.08 343.08M117.80 333.40L123.08 338.68M122.20 333.40L123.08 334.28" stroke="#000" stroke-width="1.05" fill="none"/>
<rect x="114.38" y="333.40" width="8.70" height="23.00" fill="none" stroke="#3a3a3a" stroke-width="0.8"/>
<text transform="translate(114.38,370.20) scale(0.8696,1)" font-size="6.900" font-weight="bold" text-anchor="middle" >5:1</text>
<line x1="163.82" y1="356.40" x2="163.82" y2="361.50" stroke="#626262" stroke-width="1"/>
<rect x="155.12" y="355.20" width="8.70" height="1.20" fill="#fff"/>
<path d="M156.60 356.40L157.80 355.20M159.30 356.40L160.50 355.20M162.00 356.40L163.20 355.20" stroke="#000" stroke-width="0.8" fill="none"/>
<rect x="155.12" y="355.20" width="8.70" height="1.20" fill="none" stroke="#555" stroke-width="0.8"/>
<rect x="163.82" y="355.20" width="8.70" height="1.20" fill="#fff"/>
<path d="M163.82 355.38L164.00 355.20M167.20 356.40L168.40 355.20M171.60 356.40L172.52 355.48" stroke="#000" stroke-width="1.05" fill="none"/>
<path d="M166.00 355.20L167.20 356.40M170.40 355.20L171.60 356.40" stroke="#000" stroke-width="1.05" fill="none"/>
<rect x="163.82" y="355.20" width="8.70" height="1.20" fill="none" stroke="#3a3a3a" stroke-width="0.8"/>
<text transform="translate(163.82,370.20) scale(0.8696,1)" font-size="6.900" font-weight="bold" text-anchor="middle" >20:1</text>
<line x1="188.55" y1="356.40" x2="188.55" y2="361.50" stroke="#848484" stroke-width="1"/>
<rect x="179.85" y="355.20" width="8.70" height="1.20" fill="#fff"/>
<path d="M180.90 356.40L182.10 355.20M183.60 356.40L184.80 355.20M186.30 356.40L187.50 355.20" stroke="#000" stroke-width="0.8" fill="none"/>
<rect x="179.85" y="355.20" width="8.70" height="1.20" fill="none" stroke="#555" stroke-width="0.8"/>
<rect x="188.55" y="326.20" width="8.70" height="30.20" fill="#fff"/>
<path d="M188.55 326.25L188.60 326.20M188.55 330.65L193.00 326.20M188.55 335.05L197.25 326.35M188.55 339.45L197.25 330.75M188.55 343.85L197.25 335.15M188.55 348.25L197.25 339.55M188.55 352.65L197.25 343.95M189.20 356.40L197.25 348.35M193.60 356.40L197.25 352.75" stroke="#000" stroke-width="1.05" fill="none"/>
<path d="M188.55 355.75L189.20 356.40M188.55 351.35L193.60 356.40M188.55 346.95L197.25 355.65M188.55 342.55L197.25 351.25M188.55 338.15L197.25 346.85M188.55 333.75L197.25 342.45M188.55 329.35L197.25 338.05M189.80 326.20L197.25 333.65M194.20 326.20L197.25 329.25" stroke="#000" stroke-width="1.05" fill="none"/>
<rect x="188.55" y="326.20" width="8.70" height="30.20" fill="none" stroke="#3a3a3a" stroke-width="0.8"/>
<text transform="translate(188.55,370.20) scale(0.8696,1)" font-size="6.900" font-weight="bold" text-anchor="middle" >10:1</text>
<line x1="213.28" y1="356.40" x2="213.28" y2="361.50" stroke="#717171" stroke-width="1"/>
<rect x="204.58" y="355.20" width="8.70" height="1.20" fill="#fff"/>
<path d="M205.20 356.40L206.40 355.20M207.90 356.40L209.10 355.20M210.60 356.40L211.80 355.20" stroke="#000" stroke-width="0.8" fill="none"/>
<rect x="204.58" y="355.20" width="8.70" height="1.20" fill="none" stroke="#555" stroke-width="0.8"/>
<rect x="213.28" y="342.20" width="8.70" height="14.20" fill="#fff"/>
<path d="M213.28 345.53L216.60 342.20M213.28 349.93L221.00 342.20M213.28 354.32L221.98 345.62M215.60 356.40L221.98 350.02M220.00 356.40L221.98 354.43" stroke="#000" stroke-width="1.05" fill="none"/>
<path d="M213.28 354.08L215.60 356.40M213.28 349.68L220.00 356.40M213.28 345.28L221.98 353.98M214.60 342.20L221.98 349.58M219.00 342.20L221.98 345.18" stroke="#000" stroke-width="1.05" fill="none"/>
<rect x="213.28" y="342.20" width="8.70" height="14.20" fill="none" stroke="#3a3a3a" stroke-width="0.8"/>
<text transform="translate(213.28,370.20) scale(0.8696,1)" font-size="6.900" font-weight="bold" text-anchor="middle" >5:1</text>
<line x1="139.10" y1="356.40" x2="139.10" y2="361.50" stroke="#535353" stroke-width="1"/>
<line x1="238.00" y1="356.40" x2="238.00" y2="361.50" stroke="#393939" stroke-width="1"/>
<text transform="translate(51.90,387.30) scale(0.8696,1)" font-size="6.957" font-weight="bold" text-anchor="start" >Enriched CD8</text>
<text transform="translate(94.40,382.30) scale(0.8696,1)" font-size="5.290" font-weight="bold" text-anchor="middle" >+</text>
<text transform="translate(98.30,387.30) scale(0.8696,1)" font-size="6.900" font-weight="bold" text-anchor="start" >T Cells</text>
<text transform="translate(151.60,385.90) scale(0.8696,1)" font-size="6.957" font-weight="bold" text-anchor="start" >Enriched CD4</text>
<text transform="translate(193.50,381.10) scale(0.8696,1)" font-size="5.290" font-weight="bold" text-anchor="middle" >+</text>
<text transform="translate(197.30,385.90) scale(0.8696,1)" font-size="6.900" font-weight="bold" text-anchor="start" >T Cells</text>
<text transform="translate(140.00,407.50) scale(0.8696,1)" font-size="8.970" font-weight="bold" text-anchor="middle" >E:T Ratio</text>
<text transform="translate(15.90,298.90) rotate(-90) scale(0.8696,1)" font-size="9.027" font-weight="bold" text-anchor="middle">HHV-8 Specific Lysis (%)</text>
<text x="264.20" y="215.20" font-size="25.3" font-weight="bold" text-anchor="start" class="big">D</text>
<line x1="314.50" y1="258.80" x2="314.50" y2="378.80" stroke="#888888" stroke-width="1"/>
<line x1="308.40" y1="373.40" x2="512.60" y2="373.40" stroke="#7f7f7f" stroke-width="1"/>
<line x1="308.40" y1="373.40" x2="314.50" y2="373.40" stroke="#7f7f7f" stroke-width="1"/>
<text transform="translate(306.30,375.50) scale(0.8696,1)" font-size="7.130" font-weight="normal" text-anchor="end" class="reg" >0</text>
<line x1="308.40" y1="350.48" x2="314.50" y2="350.48" stroke="#868686" stroke-width="1"/>
<text transform="translate(306.30,352.58) scale(0.8696,1)" font-size="7.130" font-weight="normal" text-anchor="end" class="reg" >100</text>
<line x1="308.40" y1="327.56" x2="314.50" y2="327.56" stroke="#838383" stroke-width="1"/>
<text transform="translate(306.30,329.66) scale(0.8696,1)" font-size="7.130" font-weight="normal" text-anchor="end" class="reg" >200</text>
<line x1="308.40" y1="304.64" x2="314.50" y2="304.64" stroke="#7b7b7b" stroke-width="1"/>
<text transform="translate(306.30,306.74) scale(0.8696,1)" font-size="7.130" font-weight="normal" text-anchor="end" class="reg" >300</text>
<line x1="308.40" y1="281.72" x2="314.50" y2="281.72" stroke="#727272" stroke-width="1"/>
<text transform="translate(306.30,283.82) scale(0.8696,1)" font-size="7.130" font-weight="normal" text-anchor="end" class="reg" >400</text>
<line x1="308.40" y1="258.80" x2="314.50" y2="258.80" stroke="#666666" stroke-width="1"/>
<text transform="translate(306.30,260.90) scale(0.8696,1)" font-size="7.130" font-weight="normal" text-anchor="end" class="reg" >500</text>
<line x1="363.90" y1="373.40" x2="363.90" y2="378.80" stroke="#535353" stroke-width="1"/>
<line x1="413.40" y1="373.40" x2="413.40" y2="378.80" stroke="#7f7f7f" stroke-width="1"/>
<line x1="463.00" y1="373.40" x2="463.00" y2="378.80" stroke="#393939" stroke-width="1"/>
<line x1="512.60" y1="373.40" x2="512.60" y2="378.80" stroke="#7f7f7f" stroke-width="1"/>
<rect x="347.40" y="332.50" width="11.00" height="40.90" fill="#fff" stroke="#3a3a3a" stroke-width="0.8"/>
<rect x="358.40" y="355.20" width="11.00" height="18.20" fill="#fff"/>
<path d="M358.40 355.30L358.50 355.20M358.40 358.35L361.55 355.20M358.40 361.40L364.60 355.20M358.40 364.45L367.65 355.20M358.40 367.50L369.40 356.50M358.40 370.55L369.40 359.55M358.60 373.40L369.40 362.60M361.65 373.40L369.40 365.65M364.70 373.40L369.40 368.70M367.75 373.40L369.40 371.75" stroke="#000" stroke-width="0.95" fill="none"/>
<rect x="358.40" y="355.20" width="11.00" height="18.20" fill="none" stroke="#3a3a3a" stroke-width="0.8"/>
<rect x="369.40" y="274.70" width="11.00" height="98.70" fill="#fff"/>
<path d="M369.40 372.45L370.35 373.40M369.40 369.40L373.40 373.40M369.40 366.35L376.45 373.40M369.40 363.30L379.50 373.40M369.40 360.25L380.40 371.25M369.40 357.20L380.40 368.20M369.40 354.15L380.40 365.15M369.40 351.10L380.40 362.10M369.40 348.05L380.40 359.05M369.40 345.00L380.40 356.00M369.40 341.95L380.40 352.95M369.40 338.90L380.40 349.90M369.40 335.85L380.40 346.85M369.40 332.80L380.40 343.80M369.40 329.75L380.40 340.75M369.40 326.70L380.40 337.70M369.40 323.65L380.40 334.65M369.40 320.60L380.40 331.60M369.40 317.55L380.40 328.55M369.40 314.50L380.40 325.50M369.40 311.45L380.40 322.45M369.40 308.40L380.40 319.40M369.40 305.35L380.40 316.35M369.40 302.30L380.40 313.30M369.40 299.25L380.40 310.25M369.40 296.20L380.40 307.20M369.40 293.15L380.40 304.15M369.40 290.10L380.40 301.10M369.40 287.05L380.40 298.05M369.40 284.00L380.40 295.00M369.40 280.95L380.40 291.95M369.40 277.90L380.40 288.90M369.40 274.85L380.40 285.85M372.30 274.70L380.40 282.80M375.35 274.70L380.40 279.75M378.40 274.70L380.40 276.70" stroke="#000" stroke-width="0.95" fill="none"/>
<rect x="369.40" y="274.70" width="11.00" height="98.70" fill="none" stroke="#3a3a3a" stroke-width="0.8"/>
<rect x="396.90" y="295.80" width="11.00" height="77.60" fill="#fff" stroke="#3a3a3a" stroke-width="0.8"/>
<rect x="407.90" y="315.80" width="11.00" height="57.60" fill="#fff"/>
<path d="M407.90 318.00L410.10 315.80M407.90 321.05L413.15 315.80M407.90 324.10L416.20 315.80M407.90 327.15L418.90 316.15M407.90 330.20L418.90 319.20M407.90 333.25L418.90 322.25M407.90 336.30L418.90 325.30M407.90 339.35L418.90 328.35M407.90 342.40L418.90 331.40M407.90 345.45L418.90 334.45M407.90 348.50L418.90 337.50M407.90 351.55L418.90 340.55M407.90 354.60L418.90 343.60M407.90 357.65L418.90 346.65M407.90 360.70L418.90 349.70M407.90 363.75L418.90 352.75M407.90 366.80L418.90 355.80M407.90 369.85L418.90 358.85M407.90 372.90L418.90 361.90M410.45 373.40L418.90 364.95M413.50 373.40L418.90 368.00M416.55 373.40L418.90 371.05" stroke="#000" stroke-width="0.95" fill="none"/>
<rect x="407.90" y="315.80" width="11.00" height="57.60" fill="none" stroke="#3a3a3a" stroke-width="0.8"/>
<rect x="418.90" y="266.10" width="11.00" height="107.30" fill="#fff"/>
<path d="M418.90 373.15L419.15 373.40M418.90 370.10L422.20 373.40M418.90 367.05L425.25 373.40M418.90 364.00L428.30 373.40M418.90 360.95L429.90 371.95M418.90 357.90L429.90 368.90M418.90 354.85L429.90 365.85M418.90 351.80L429.90 362.80M418.90 348.75L429.90 359.75M418.90 345.70L429.90 356.70M418.90 342.65L429.90 353.65M418.90 339.60L429.90 350.60M418.90 336.55L429.90 347.55M418.90 333.50L429.90 344.50M418.90 330.45L429.90 341.45M418.90 327.40L429.90 338.40M418.90 324.35L429.90 335.35M418.90 321.30L429.90 332.30M418.90 318.25L429.90 329.25M418.90 315.20L429.90 326.20M418.90 312.15L429.90 323.15M418.90 309.10L429.90 320.10M418.90 306.05L429.90 317.05M418.90 303.00L429.90 314.00M418.90 299.95L429.90 310.95M418.90 296.90L429.90 307.90M418.90 293.85L429.90 304.85M418.90 290.80L429.90 301.80M418.90 287.75L429.90 298.75M418.90 284.70L429.90 295.70M418.90 281.65L429.90 292.65M418.90 278.60L429.90 289.60M418.90 275.55L429.90 286.55M418.90 272.50L429.90 283.50M418.90 269.45L429.90 280.45M418.90 266.40L429.90 277.40M421.65 266.10L429.90 274.35M424.70 266.10L429.90 271.30M427.75 266.10L429.90 268.25" stroke="#000" stroke-width="0.95" fill="none"/>
<rect x="418.90" y="266.10" width="11.00" height="107.30" fill="none" stroke="#3a3a3a" stroke-width="0.8"/>
<rect x="446.50" y="372.50" width="11.00" height="0.90" fill="#fff" stroke="#3a3a3a" stroke-width="0.8"/>
<rect x="457.50" y="372.50" width="11.00" height="0.90" fill="#fff"/>
<path d="M459.25 373.40L460.15 372.50M462.30 373.40L463.20 372.50M465.35 373.40L466.25 372.50M468.40 373.40L468.50 373.30" stroke="#000" stroke-width="0.95" fill="none"/>
<rect x="457.50" y="372.50" width="11.00" height="0.90" fill="none" stroke="#3a3a3a" stroke-width="0.8"/>
<rect x="468.50" y="372.50" width="11.00" height="0.90" fill="#fff"/>
<path d="M470.10 372.50L471.00 373.40M473.15 372.50L474.05 373.40M476.20 372.50L477.10 373.40M479.25 372.50L479.50 372.75" stroke="#000" stroke-width="0.95" fill="none"/>
<rect x="468.50" y="372.50" width="11.00" height="0.90" fill="none" stroke="#3a3a3a" stroke-width="0.8"/>
<text transform="translate(363.70,387.20) scale(0.8696,1)" font-size="7.130" font-weight="normal" text-anchor="middle" class="reg" >PBMCs</text>
<text transform="translate(413.50,387.20) scale(0.8696,1)" font-size="7.130" font-weight="normal" text-anchor="middle" class="reg" >CD8+ T cells</text>
<text transform="translate(462.60,387.20) scale(0.8696,1)" font-size="7.130" font-weight="normal" text-anchor="middle" class="reg" >CD4+ T cells</text>
<text transform="translate(286.60,316.40) rotate(-90) scale(1.0000,1)" font-size="7.850" font-weight="bold" text-anchor="middle"># of Spots / Million Cells</text>
</g>
</svg></body></html>
